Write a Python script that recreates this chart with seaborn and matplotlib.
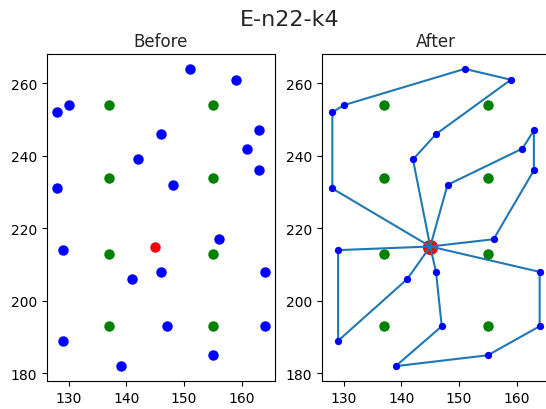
import matplotlib
matplotlib.use("Agg")
import matplotlib.pyplot as plt
import seaborn as sns
import pandas as pd

# E-n22-k4 node coordinates (node 0 = depot)
node_x = [145, 151, 159, 130, 128, 163, 146, 161, 142, 163, 148,
          128, 156, 129, 146, 164, 141, 147, 164, 129, 155, 139]
node_y = [215, 264, 261, 254, 252, 247, 246, 242, 239, 236, 232,
          231, 217, 214, 208, 208, 206, 193, 193, 189, 185, 182]

# green reference points
green_x = [137, 137, 137, 137, 155, 155, 155, 155]
green_y = [254, 234, 213, 193, 254, 234, 213, 193]

# routes (node indices)
route_1 = [0, 11, 4, 3, 1, 2, 6, 8, 0]
route_2 = [0, 10, 7, 5, 9, 12, 0]
route_3 = [0, 15, 18, 20, 21, 17, 14, 0]
route_4 = [0, 13, 19, 16, 0]
routes = [route_1, route_2, route_3, route_4]

title_main = "E-n22-k4"
title_left = "Before"
title_right = "After"

sns.set_style("ticks")
plt.rcParams["font.family"] = ["DejaVu Sans"]
plt.rcParams["axes.edgecolor"] = "black"
plt.rcParams["xtick.color"] = "black"
plt.rcParams["ytick.color"] = "black"
plt.rcParams["axes.linewidth"] = 0.8

fig = plt.figure(figsize=(5.46, 4.10), dpi=100)
ax1 = fig.add_axes([47 / 546, 28 / 410, 228 / 546, 327 / 410])
ax2 = fig.add_axes([322 / 546, 28 / 410, 228 / 546, 327 / 410])

cust = pd.DataFrame({"x": node_x[1:], "y": node_y[1:]})
depot = pd.DataFrame({"x": node_x[:1], "y": node_y[:1]})
green = pd.DataFrame({"x": green_x, "y": green_y})

# Before
sns.scatterplot(data=cust, x="x", y="y", color="blue", s=36,
                edgecolor="face", linewidth=1.5, ax=ax1, zorder=2)
sns.scatterplot(data=green, x="x", y="y", color="green", s=36,
                edgecolor="face", linewidth=1.5, ax=ax1, zorder=2)
sns.scatterplot(data=depot, x="x", y="y", color="red", s=36,
                edgecolor="face", linewidth=1.5, ax=ax1, zorder=2)

# After
sns.scatterplot(data=green, x="x", y="y", color="green", s=36,
                edgecolor="face", linewidth=1.5, ax=ax2, zorder=2)
sns.scatterplot(data=depot, x="x", y="y", color="red", s=90,
                edgecolor="face", linewidth=1.5, ax=ax2, zorder=2)
for r in routes:
    rd = pd.DataFrame({"x": [node_x[i] for i in r], "y": [node_y[i] for i in r]})
    sns.lineplot(data=rd, x="x", y="y", sort=False, estimator=None,
                 color="#1f77b4", linewidth=1.5, ax=ax2, zorder=3)
sns.scatterplot(data=cust, x="x", y="y", color="blue", s=14,
                edgecolor="face", linewidth=1.5, ax=ax2, zorder=4)

for ax, t in [(ax1, title_left), (ax2, title_right)]:
    ax.set_xlabel("")
    ax.set_ylabel("")
    ax.set_title(t, fontsize=12)
    ax.set_xticks([130, 140, 150, 160])
    ax.set_yticks([180, 200, 220, 240, 260])
    ax.tick_params(labelsize=10, length=3.5, width=0.8)
    for s in ax.spines.values():
        s.set_visible(True)
    ax.margins(0.05)

fig.suptitle(title_main, fontsize=16, x=290 / 546, y=0.975, va="top")
fig.savefig("out.png", dpi=100)
